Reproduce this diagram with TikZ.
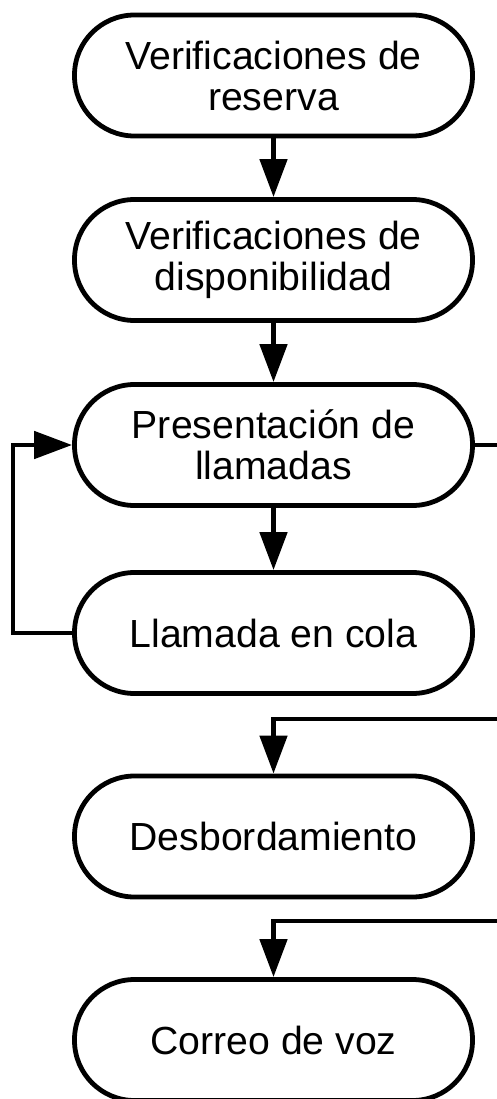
\documentclass[tikz,border=0pt]{standalone}
\usepackage{fontspec}
\setmainfont{Liberation Sans}
\usetikzlibrary{arrows.meta}
\begin{document}
\begin{tikzpicture}[x=1pt,y=-1pt,
  term/.style={draw, line width=4.8pt, rectangle, rounded corners=60pt,
    minimum width=398pt, minimum height=121pt, inner sep=0pt, align=center,
    font=\fontsize{39.2}{41}\selectfont},
  conn/.style={line width=4.8pt},
  arr/.style={conn, -{Triangle[length=38pt,width=27pt]}}]
\useasboundingbox (0,0) rectangle (496,1099);
\node[term] (n1) at (273.5,75.5) {Verificaciones de\\reserva};
\node[term] (n2) at (273.5,260) {Verificaciones de\\disponibilidad};
\node[term] (n3) at (273.5,445) {Presentación de\\llamadas};
\node[term] (n4) at (273.5,633) {Llamada en cola};
\node[term] (n5) at (273.5,836.5) {Desbordamiento};
\node[term] (n6) at (273.5,1040) {Correo de voz};
\coordinate (lx) at (13,0);
\coordinate (r3) at (497,445);
\coordinate (r5) at (497,719);
\coordinate (r6) at (497,921);
\draw[arr] (n1) -- (n2);
\draw[arr] (n2) -- (n3);
\draw[arr] (n3) -- (n4);
\draw[arr] (n4.west) -- (n4.west -| lx) |- (n3.west);
\draw[conn] (n3.east) -- (r3);
\draw[arr] (r5) -| (n5.north);
\draw[arr] (r6) -| (n6.north);
\end{tikzpicture}
\end{document}
